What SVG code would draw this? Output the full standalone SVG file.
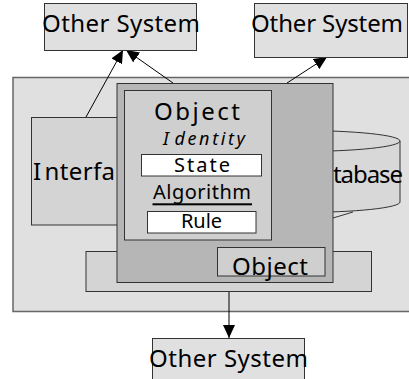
<svg xmlns="http://www.w3.org/2000/svg" width="409" height="379" viewBox="0 0 409 379">
  <defs>
    <marker id="arrow" viewBox="0 0 13 12" refX="13" refY="6" markerWidth="13" markerHeight="12" markerUnits="userSpaceOnUse" orient="auto">
      <path d="M0,0 L13,6 L0,12 Z" fill="#000"/>
    </marker>
    <style>
      text { font-family: "Noto Sans", "Liberation Sans", Arial, sans-serif; fill: #000; }
      .big { font-size: 24px; }
      .mid { font-size: 20px; }
      .box { stroke: #333; stroke-width: 1; }
      .sys { fill: #e0e0e0; }
      .conn { stroke: #000; stroke-width: 1; fill: none; marker-end: url(#arrow); }
    </style>
  </defs>

  <!-- system boundary -->
  <g id="boundary">
    <rect x="13" y="77.5" width="410" height="234" fill="#e0e0e0" stroke="#666" stroke-width="1.5"/>
  </g>

  <!-- database cylinder, left side sits behind the object -->
  <g id="database">
    <path d="M200,141 L200,202 A100,10.5 0 0 0 400,202 L400,141 Z" fill="#d8d8d8" stroke="#333"/>
    <ellipse cx="300" cy="141" rx="100" ry="10.5" fill="#d8d8d8" stroke="#333"/>
    <line x1="333" y1="218" x2="353" y2="212" stroke="#333"/>
    <text class="big" x="333" y="183" textLength="70" lengthAdjust="spacing">tabase</text>
  </g>

  <!-- interface -->
  <g id="interface">
    <rect class="box" x="31.5" y="117.5" width="100" height="107.5" fill="#d4d4d4"/>
    <text class="big" x="33" y="180" textLength="82" lengthAdjust="spacing">I<tspan dx="3">nterfa</tspan></text>
  </g>

  <!-- platform under the object -->
  <g id="platform">
    <rect class="box" x="86" y="251.5" width="285.5" height="40" fill="#d4d4d4"/>
  </g>

  <!-- connectors -->
  <g id="connectors">
    <line class="conn" x1="86" y1="117" x2="123" y2="50"/>
    <line class="conn" x1="173" y1="83" x2="126" y2="50"/>
    <line class="conn" x1="287" y1="83" x2="327" y2="57"/>
    <line class="conn" x1="229" y1="292" x2="229" y2="338"/>
  </g>

  <!-- object -->
  <g id="object">
    <rect class="box" x="117" y="83.5" width="216" height="199" fill="#b6b6b6"/>
    <rect class="box" x="124.5" y="90.5" width="147" height="149.5" fill="#cfcfcf"/>
    <text class="big" x="154" y="120" textLength="86" lengthAdjust="spacing">Object</text>
    <text x="163" y="145" font-size="18" font-style="italic" textLength="82" lengthAdjust="spacing">I<tspan dx="3">dentity</tspan></text>
    <rect class="box" x="141.5" y="154.5" width="120" height="21.5" fill="#fff"/>
    <text class="mid" x="174" y="172" textLength="56" lengthAdjust="spacing">State</text>
    <text class="mid" x="153" y="199" textLength="98" lengthAdjust="spacing">Algorithm</text>
    <rect x="152.5" y="203.3" width="99.5" height="2" fill="#000"/>
    <rect class="box" x="147.5" y="211.5" width="108.5" height="21.5" fill="#fff"/>
    <text class="mid" x="181" y="228" textLength="41" lengthAdjust="spacing">Rule</text>
  </g>

  <!-- nested object -->
  <g id="inner-object">
    <rect class="box" x="217.5" y="247.5" width="107.5" height="28.5" fill="#cfcfcf"/>
    <text class="big" x="232" y="275" textLength="76" lengthAdjust="spacing">Object</text>
  </g>

  <!-- external systems -->
  <g id="system-top-left">
    <rect class="box sys" x="44.5" y="3.5" width="152" height="47"/>
    <text class="big" x="42" y="32" textLength="158" lengthAdjust="spacing">Other System</text>
  </g>
  <g id="system-top-right">
    <rect class="box sys" x="254.5" y="3.5" width="153" height="54"/>
    <text class="big" x="251" y="32" textLength="152" lengthAdjust="spacing">Other System</text>
  </g>
  <g id="system-bottom">
    <rect class="box sys" x="152.5" y="338.5" width="152" height="45"/>
    <text class="big" x="149" y="367" textLength="159" lengthAdjust="spacing">Other System</text>
  </g>
</svg>
